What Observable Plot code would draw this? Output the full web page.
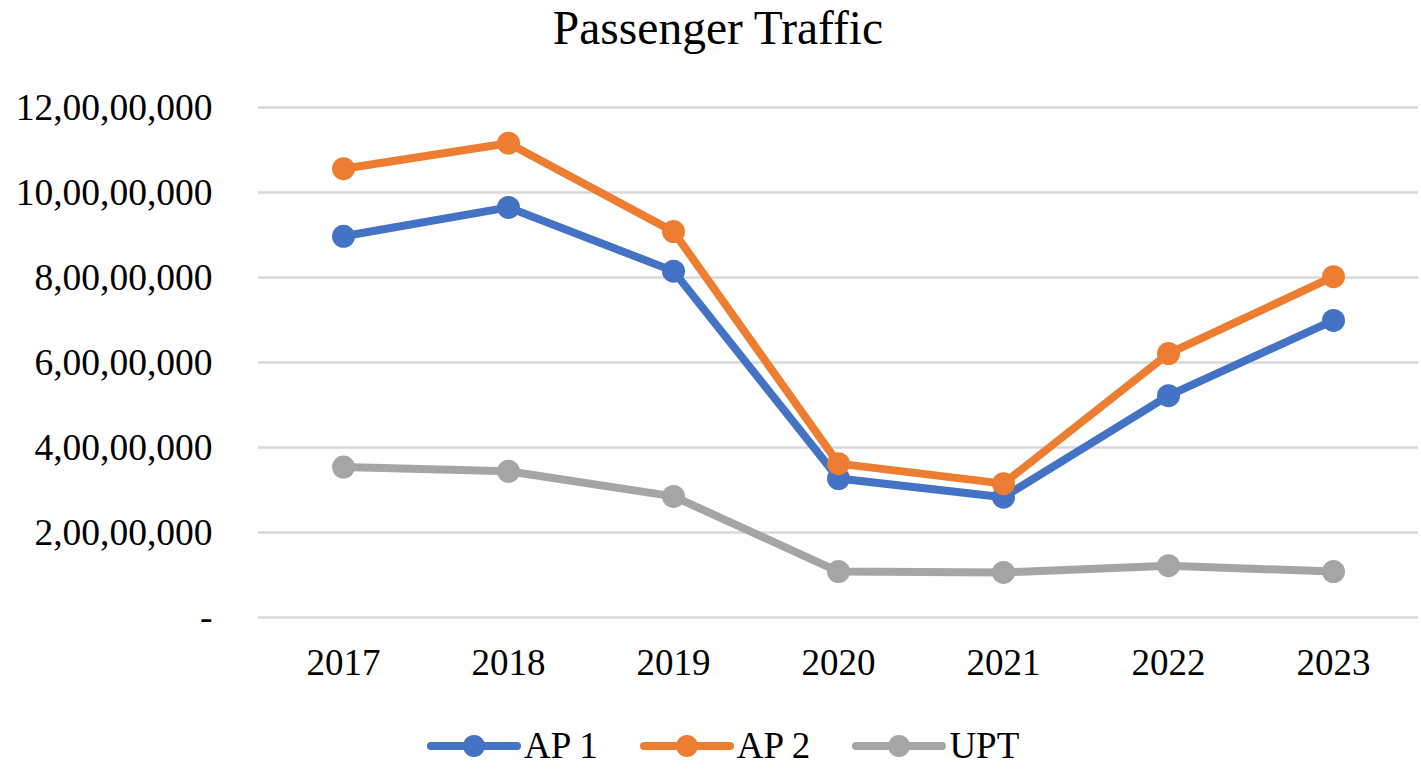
<!DOCTYPE html>
<html>
<head>
<meta charset="utf-8">
<script src="https://cdn.jsdelivr.net/npm/d3@7"></script>
<script src="https://cdn.jsdelivr.net/npm/@observablehq/plot@0.6"></script>
<style>
  html, body { margin: 0; padding: 0; background: #fff; }
  body { width: 1421px; height: 771px; overflow: hidden; font-family: "Liberation Serif", "Times New Roman", serif; }
  #title { height: 70px; line-height: 56px; text-align: center; font-size: 47.5px; color: #000; padding-left: 15px; box-sizing: border-box; }
  #legend { height: 71px; box-sizing: border-box; padding-top: 26px; padding-left: 427px; display: flex; }
  .item { display: flex; align-items: center; height: 40px; line-height: 40px; font-size: 37px; color: #000; margin-right: 42px; }
  .item svg { margin-right: 3px; }
</style>
</head>
<body>
<div id="title">Passenger Traffic</div>
<div id="chart"></div>
<div id="legend"></div>
<script>
// ---- data ----
const years = ["2017", "2018", "2019", "2020", "2021", "2022", "2023"];
const ap1 = [89700000, 96500000, 81500000, 32700000, 28300000, 52200000, 69900000];
const ap2 = [105600000, 111600000, 90800000, 36200000, 31500000, 62100000, 80200000];
const upt = [35400000, 34400000, 28500000, 10800000, 10600000, 12200000, 10800000];
const seriesNames = ["AP 1", "AP 2", "UPT"];
const seriesColors = ["#4472C4", "#ED7D31", "#A5A5A5"];
const yTicks = [0, 20000000, 40000000, 60000000, 80000000, 100000000, 120000000];

const seriesValues = [ap1, ap2, upt];
const rows = [];
seriesNames.forEach((name, s) => {
  years.forEach((yr, i) => rows.push({ series: name, year: yr, value: seriesValues[s][i] }));
});

// Indian digit grouping: 3, then 2, 2, 2 ...
const indian = d3.formatLocale({ decimal: ".", thousands: ",", grouping: [3, 2, 2, 2, 2, 2, 2, 2], currency: ["₹", ""] }).format(",");
const fmt = d => d === 0 ? "-" : indian(d);

const marks = [
  Plot.gridY(yTicks, { stroke: "#D9D9D9", strokeOpacity: 1, strokeWidth: 2.6 }),
  Plot.axisY(yTicks, { tickSize: 0, tickPadding: 46, tickFormat: fmt, fontSize: 37.5, label: null }),
  Plot.axisX({ tickSize: 0, tickPadding: 31, fontSize: 37, label: null })
];
seriesNames.forEach((name, s) => {
  const data = rows.filter(r => r.series === name);
  marks.push(Plot.line(data, { x: "year", y: "value", stroke: seriesColors[s], strokeWidth: 8, strokeLinejoin: "round", strokeLinecap: "round" }));
  marks.push(Plot.dot(data, { x: "year", y: "value", r: 11.5, fill: seriesColors[s], stroke: "none" }));
});

const chart = Plot.plot({
  width: 1421,
  height: 630,
  marginTop: 37,
  marginBottom: 83,
  marginLeft: 258,
  marginRight: 3,
  style: { fontFamily: "Liberation Serif, Times New Roman, serif", color: "#000", background: "#fff", overflow: "visible" },
  x: { type: "point", domain: years, padding: 0.5 },
  y: { domain: [0, 120000000] },
  marks
});
document.getElementById("chart").appendChild(chart);

// legend
const legend = document.getElementById("legend");
seriesNames.forEach((name, s) => {
  const item = document.createElement("div");
  item.className = "item";
  item.innerHTML = `<svg width="94" height="30" viewBox="0 0 94 30"><line x1="4" y1="15" x2="90" y2="15" stroke="${seriesColors[s]}" stroke-width="8" stroke-linecap="round"/><circle cx="47" cy="15" r="11" fill="${seriesColors[s]}"/></svg><span>${name}</span>`;
  legend.appendChild(item);
});
</script>
</body>
</html>
